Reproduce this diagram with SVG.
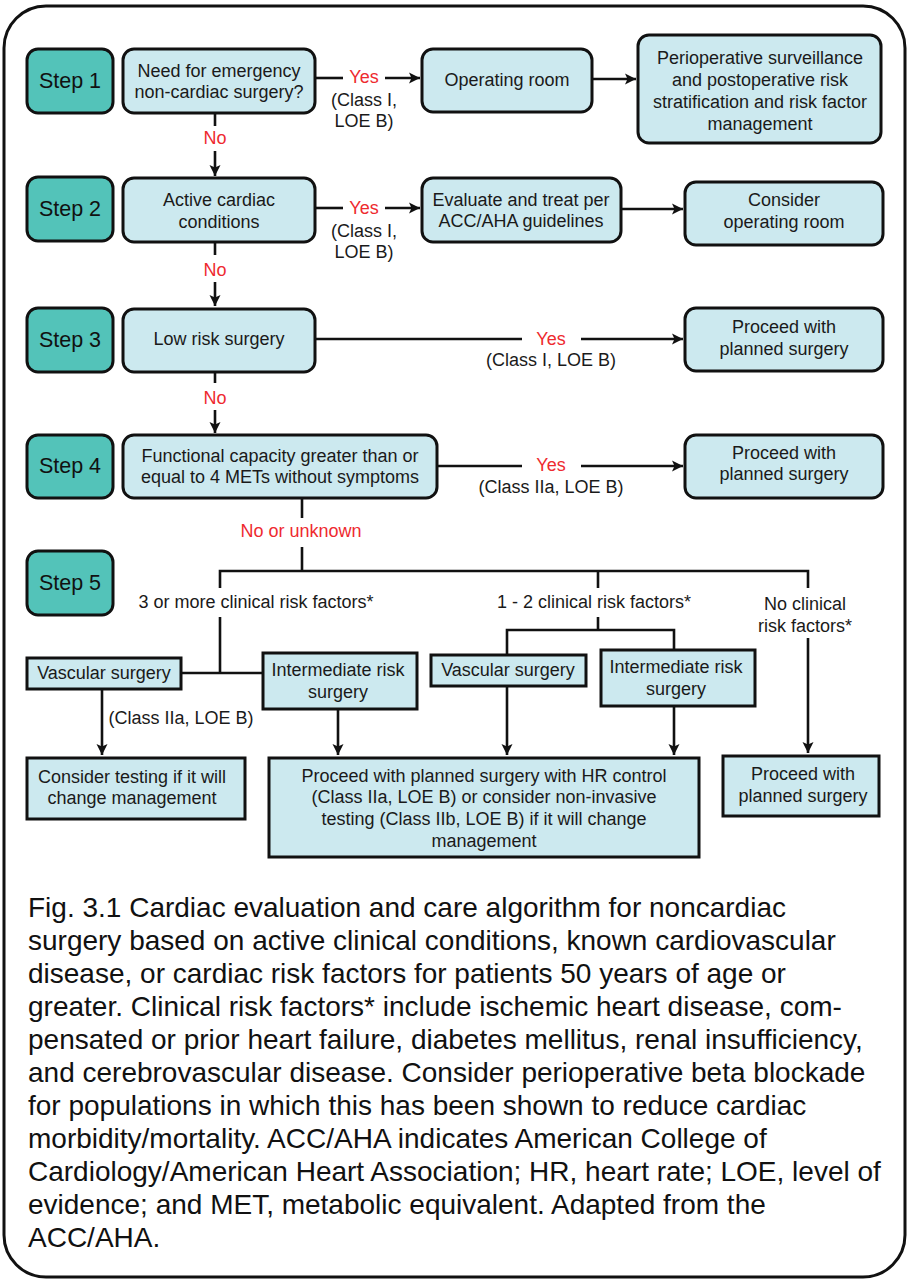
<svg xmlns="http://www.w3.org/2000/svg" width="907" height="1280" viewBox="0 0 907 1280">
<style>
  .frame{fill:#fff;stroke:#111;stroke-width:3}
  .step{fill:#53c3b9;stroke:#111;stroke-width:3}
  .node{fill:#cce9ef;stroke:#111;stroke-width:3}
  .sq{fill:#cce9ef;stroke:#111;stroke-width:3}
  .conn{fill:none;stroke:#111;stroke-width:2.6}
  .t{font-family:"Liberation Sans",Arial,sans-serif;font-size:18px;fill:#1a1a1a;text-anchor:middle;dominant-baseline:central}
  .st{font-family:"Liberation Sans",Arial,sans-serif;font-size:21.5px;fill:#111;text-anchor:middle;dominant-baseline:central}
  .red{font-family:"Liberation Sans",Arial,sans-serif;font-size:18px;fill:#ee2a2f;text-anchor:middle;dominant-baseline:central}
  .cap{font-family:"Liberation Sans",Arial,sans-serif;font-size:28px;fill:#111}
</style>
<defs>
  <marker id="ah" markerWidth="12" markerHeight="12" refX="11" refY="6" orient="auto" markerUnits="userSpaceOnUse">
    <path d="M0,0.5 L11,6 L0,11.5 L2.5,6 Z" fill="#111"/>
  </marker>
</defs>
<rect class="frame" x="4" y="6" width="901" height="1271" rx="42" ry="42"/>

<g id="step1"><rect class="step" x="27" y="49" width="86" height="64" rx="11"/><text class="st" x="70" y="81">Step 1</text></g>
<g id="step2"><rect class="step" x="27" y="177" width="86" height="64" rx="11"/><text class="st" x="70" y="209">Step 2</text></g>
<g id="step3"><rect class="step" x="27" y="308" width="86" height="64" rx="11"/><text class="st" x="70" y="340">Step 3</text></g>
<g id="step4"><rect class="step" x="27" y="435" width="86" height="63" rx="11"/><text class="st" x="70" y="466">Step 4</text></g>
<g id="step5"><rect class="step" x="27" y="551" width="86" height="64" rx="11"/><text class="st" x="70" y="583">Step 5</text></g>

<g id="n-emergency"><rect class="node" x="123" y="49" width="192" height="64" rx="11"/>
  <text class="t" x="219" y="71">Need for emergency</text><text class="t" x="219" y="92">non-cardiac surgery?</text></g>
<g id="n-oproom"><rect class="node" x="422" y="49" width="170" height="63" rx="11"/>
  <text class="t" x="507" y="80">Operating room</text></g>
<g id="n-periop"><rect class="node" x="638" y="35" width="243" height="108" rx="11"/>
  <text class="t" x="760" y="58">Perioperative surveillance</text><text class="t" x="760" y="80">and postoperative risk</text>
  <text class="t" x="760" y="102">stratification and risk factor</text><text class="t" x="760" y="124">management</text></g>

<g id="n-active"><rect class="node" x="123" y="178" width="192" height="64" rx="11"/>
  <text class="t" x="219" y="200">Active cardiac</text><text class="t" x="219" y="222">conditions</text></g>
<g id="n-evaluate"><rect class="node" x="422" y="178" width="199" height="64" rx="11"/>
  <text class="t" x="521" y="200">Evaluate and treat per</text><text class="t" x="521" y="221">ACC/AHA guidelines</text></g>
<g id="n-consider-or"><rect class="node" x="685" y="182" width="198" height="63" rx="11"/>
  <text class="t" x="784" y="200">Consider</text><text class="t" x="784" y="222">operating room</text></g>

<g id="n-lowrisk"><rect class="node" x="123" y="309" width="192" height="63" rx="11"/>
  <text class="t" x="219" y="339">Low risk surgery</text></g>
<g id="n-proceed1"><rect class="node" x="685" y="308" width="198" height="63" rx="11"/>
  <text class="t" x="784" y="327">Proceed with</text><text class="t" x="784" y="349">planned surgery</text></g>

<g id="n-functional"><rect class="node" x="123" y="435" width="314" height="63" rx="11"/>
  <text class="t" x="280" y="456">Functional capacity greater than or</text><text class="t" x="280" y="477">equal to 4 METs without symptoms</text></g>
<g id="n-proceed2"><rect class="node" x="685" y="435" width="198" height="63" rx="11"/>
  <text class="t" x="784" y="453">Proceed with</text><text class="t" x="784" y="474">planned surgery</text></g>

<g id="n-vasc1"><rect class="sq" x="27" y="658" width="154" height="31"/>
  <text class="t" x="104" y="673">Vascular surgery</text></g>
<g id="n-inter1"><rect class="sq" x="263" y="653" width="154" height="56"/>
  <text class="t" x="338" y="670">Intermediate risk</text><text class="t" x="338" y="692">surgery</text></g>
<g id="n-vasc2"><rect class="sq" x="431" y="655" width="155" height="31"/>
  <text class="t" x="508" y="670">Vascular surgery</text></g>
<g id="n-inter2"><rect class="sq" x="601" y="650" width="154" height="56"/>
  <text class="t" x="676" y="667">Intermediate risk</text><text class="t" x="676" y="689">surgery</text></g>

<g id="n-testing"><rect class="sq" x="27" y="758" width="218" height="61"/>
  <text class="t" x="132" y="777">Consider testing if it will</text><text class="t" x="132" y="798">change management</text></g>
<g id="n-hr"><rect class="sq" x="269" y="758" width="430" height="99"/>
  <text class="t" x="484" y="776">Proceed with planned surgery with HR control</text>
  <text class="t" x="484" y="797">(Class IIa, LOE B) or consider non-invasive</text>
  <text class="t" x="484" y="819">testing (Class IIb, LOE B) if it will change</text>
  <text class="t" x="484" y="841">management</text></g>
<g id="n-proceed3"><rect class="sq" x="723" y="756" width="156" height="60"/>
  <text class="t" x="803" y="774">Proceed with</text><text class="t" x="803" y="796">planned surgery</text></g>

<g id="connectors">
  <path class="conn" d="M315,78 H343"/><path class="conn" d="M385,78 H420" marker-end="url(#ah)"/>
  <text class="red" x="364" y="77">Yes</text>
  <text class="t" x="364" y="100">(Class I,</text><text class="t" x="364" y="121">LOE B)</text>
  <path class="conn" d="M592,79 H636" marker-end="url(#ah)"/>
  <path class="conn" d="M215,113 V126"/><path class="conn" d="M215,151 V176" marker-end="url(#ah)"/>
  <text class="red" x="215" y="138">No</text>
  <path class="conn" d="M315,208 H343"/><path class="conn" d="M385,208 H420" marker-end="url(#ah)"/>
  <text class="red" x="364" y="208">Yes</text>
  <text class="t" x="364" y="231">(Class I,</text><text class="t" x="364" y="252">LOE B)</text>
  <path class="conn" d="M621,209 H683" marker-end="url(#ah)"/>
  <path class="conn" d="M215,242 V255"/><path class="conn" d="M215,282 V306" marker-end="url(#ah)"/>
  <text class="red" x="215" y="270">No</text>
  <path class="conn" d="M315,339 H522"/><path class="conn" d="M581,339 H683" marker-end="url(#ah)"/>
  <text class="red" x="551" y="339">Yes</text>
  <text class="t" x="551" y="360">(Class I, LOE B)</text>
  <path class="conn" d="M215,373 V383"/><path class="conn" d="M215,410 V433" marker-end="url(#ah)"/>
  <text class="red" x="215" y="398">No</text>
  <path class="conn" d="M437,466 H522"/><path class="conn" d="M581,466 H683" marker-end="url(#ah)"/>
  <text class="red" x="551" y="465">Yes</text>
  <text class="t" x="551" y="487">(Class IIa, LOE B)</text>
  <path class="conn" d="M302,498 V518"/>
  <text class="red" x="301" y="531">No or unknown</text>
  <path class="conn" d="M302,547 V571"/>
  <path class="conn" d="M220,588 V571 H808 V588"/>
  <path class="conn" d="M598,571 V588"/>
  <text class="t" x="256" y="602">3 or more clinical risk factors*</text>
  <text class="t" x="594" y="602">1 - 2 clinical risk factors*</text>
  <text class="t" x="805" y="604">No clinical</text><text class="t" x="805" y="626">risk factors*</text>
  <path class="conn" d="M220,617 V673"/>
  <path class="conn" d="M181,673 H263"/>
  <path class="conn" d="M598,617 V630"/>
  <path class="conn" d="M507,655 V630 H674 V650"/>
  <path class="conn" d="M102,689 V755" marker-end="url(#ah)"/>
  <text class="t" x="181" y="718">(Class IIa, LOE B)</text>
  <path class="conn" d="M338,709 V755" marker-end="url(#ah)"/>
  <path class="conn" d="M507,686 V755" marker-end="url(#ah)"/>
  <path class="conn" d="M674,706 V755" marker-end="url(#ah)"/>
  <path class="conn" d="M808,638 V753" marker-end="url(#ah)"/>
</g>

<g id="caption" class="cap">
  <text x="28" y="917">Fig. 3.1 Cardiac evaluation and care algorithm for noncardiac</text>
  <text x="28" y="950">surgery based on active clinical conditions, known cardiovascular</text>
  <text x="28" y="983">disease, or cardiac risk factors for patients 50 years of age or</text>
  <text x="28" y="1016">greater. Clinical risk factors* include ischemic heart disease, com-</text>
  <text x="28" y="1049">pensated or prior heart failure, diabetes mellitus, renal insufficiency,</text>
  <text x="28" y="1082">and cerebrovascular disease. Consider perioperative beta blockade</text>
  <text x="28" y="1115">for populations in which this has been shown to reduce cardiac</text>
  <text x="28" y="1148">morbidity/mortality. ACC/AHA indicates American College of</text>
  <text x="28" y="1181">Cardiology/American Heart Association; HR, heart rate; LOE, level of</text>
  <text x="28" y="1214">evidence; and MET, metabolic equivalent. Adapted from the</text>
  <text x="28" y="1247">ACC/AHA.</text>
</g>
</svg>
